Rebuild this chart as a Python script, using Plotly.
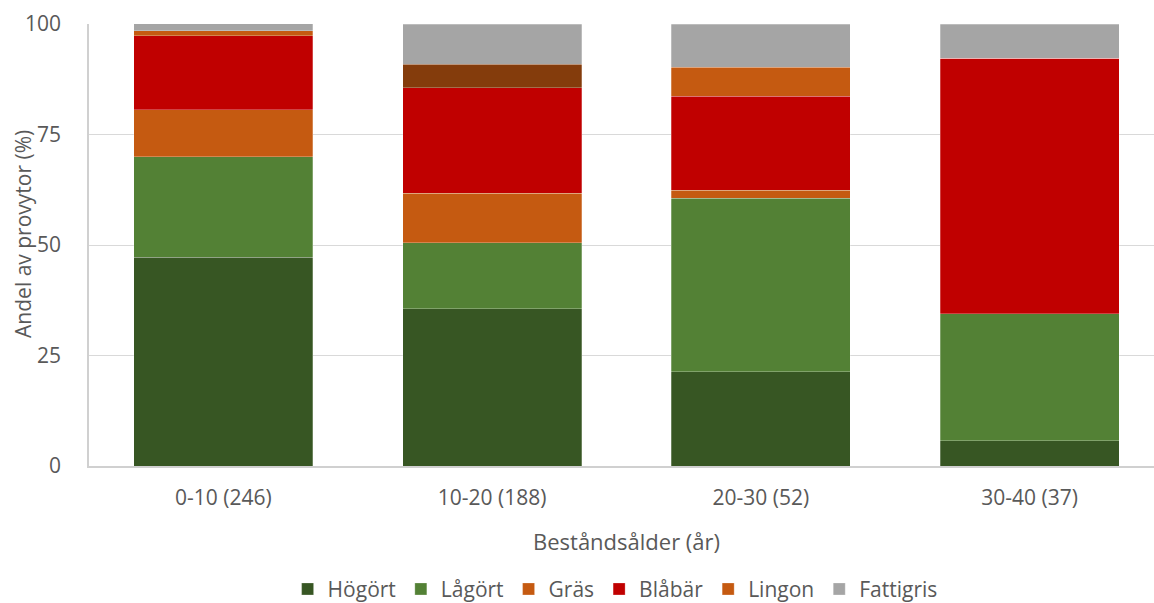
import plotly.graph_objects as go

# Stand age classes (number of sample plots in parentheses)
categories = ["0-10 (246)", "10-20 (188)", "20-30 (52)", "30-40 (37)"]

# Share of sample plots (%) per vegetation type
hogort = [47.2, 35.6, 21.3, 5.7]
lagort = [22.8, 14.9, 39.3, 28.8]
gras = [10.6, 11.2, 1.8, 0.0]
blabar = [16.7, 23.9, 21.2, 57.8]
lingon = [1.2, 5.3, 6.6, 0.0]
fattigris = [1.6, 9.0, 9.8, 7.7]

series = [
    ("Högört", hogort, "#375623"),
    ("Lågört", lagort, "#538135"),
    ("Gräs", gras, "#C55A11"),
    ("Blåbär", blabar, "#C00000"),
    ("Lingon", lingon, ["#C55A11", "#843C0C", "#C55A11", "#C55A11"]),
    ("Fattigris", fattigris, "#A5A5A5"),
]

FONT = "Open Sans"
GREY = "#595959"

fig = go.Figure()
for name, vals, color in series:
    fig.add_trace(go.Bar(
        name=name,
        x=categories,
        y=vals,
        width=0.666,
        marker=dict(color=color, line=dict(color="rgba(255,255,255,0.35)", width=0.75)),
    ))

fig.update_layout(
    barmode="stack",
    width=1154,
    height=603,
    margin=dict(l=89, r=0, t=24, b=137, autoexpand=False),
    paper_bgcolor="white",
    plot_bgcolor="white",
    font=dict(family=FONT, color=GREY, size=21),
    showlegend=True,
    legend=dict(
        orientation="h",
        x=0.494,
        xanchor="center",
        y=-0.279,
        yanchor="middle",
        font=dict(size=21, color=GREY),
        traceorder="normal",
        itemwidth=30,
        tracegroupgap=0,
    ),
    xaxis=dict(
        type="category",
        range=[-0.5, 3.463],
        automargin=False,
        showgrid=False,
        showline=True,
        linecolor="#D0D0D0",
        linewidth=1.5,
        ticks="",
        tickfont=dict(size=21, color=GREY),
        ticklabelstandoff=12,
    ),
    yaxis=dict(
        range=[0, 100],
        tickvals=[0, 25, 50, 75, 100],
        automargin=False,
        showgrid=True,
        gridcolor="#D9D9D9",
        gridwidth=1.3,
        showline=True,
        linecolor="#D0D0D0",
        linewidth=1.5,
        zeroline=False,
        ticks="",
        tickfont=dict(size=21, color=GREY),
        ticklabelstandoff=22,
    ),
    annotations=[
        dict(
            text="Andel av provytor (%)",
            xref="paper", yref="paper",
            x=-0.062, y=0.525,
            xanchor="center", yanchor="middle",
            textangle=-90,
            showarrow=False,
            font=dict(size=21, color=GREY),
        ),
        dict(
            text="Beståndsålder (år)",
            xref="paper", yref="paper",
            x=0.505, y=-0.17,
            xanchor="center", yanchor="middle",
            showarrow=False,
            font=dict(size=22, color=GREY),
        ),
    ],
)

fig.write_html("out.html")
